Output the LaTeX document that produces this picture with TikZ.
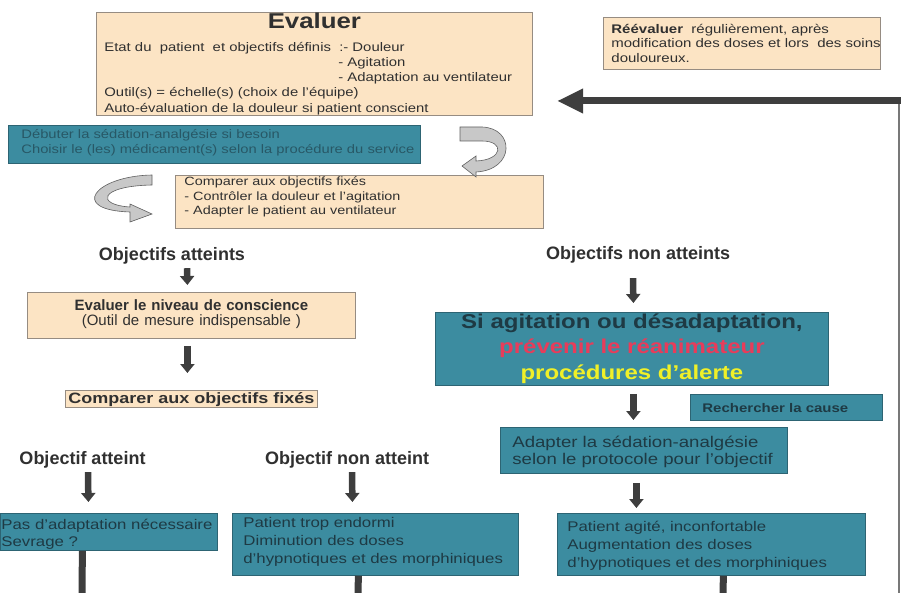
\documentclass[tikz,border=0pt]{standalone}
\usepackage{fontspec}
\setmainfont{Liberation Sans}[FakeStretch=1.2]
\newfontfamily\plainsans{Liberation Sans}
\usetikzlibrary{arrows.meta,calc}
\definecolor{peach}{RGB}{252,228,196}
\definecolor{peachline}{RGB}{150,140,130}
\definecolor{tealfill}{RGB}{60,140,160}
\definecolor{tealline}{RGB}{45,100,115}
\definecolor{tealtext}{RGB}{30,58,68}
\definecolor{debtext}{RGB}{40,88,102}
\definecolor{arrowc}{RGB}{62,62,62}
\definecolor{labelc}{RGB}{48,48,48}
\definecolor{alertred}{RGB}{232,60,90}
\definecolor{alertyellow}{RGB}{240,240,40}
\definecolor{ribbon}{RGB}{200,200,200}
\begin{document}
\begin{tikzpicture}[x=1pt,y=-1pt,
 box/.style={rectangle, inner ysep=0pt, anchor=north west, align=left, line width=0.8pt},
 peachbox/.style={box, draw=peachline, fill=peach, text=labelc},
 tealbox/.style={box, draw=tealline, fill=tealfill, text=tealtext},
 lbl/.style={inner sep=0pt, anchor=base, text=labelc, font=\plainsans\fontsize{18}{18}\selectfont\bfseries, text depth=0pt},
 blockarrow/.style={draw=arrowc, line width=6.5pt, -{Triangle[width=14pt,length=9pt]}},
 stem/.style={draw=arrowc, line width=7pt},
 ribbonstyle/.style={fill=ribbon, draw=gray!75!black, line width=0.6pt},
]
\useasboundingbox (0,0) rectangle (901,593);

% boxes
\node[peachbox, text width=420pt, inner xsep=8pt, text height=16pt, text depth=87pt,
  font=\fontsize{12.4}{15.3}\selectfont] (eval) at (96,12)
 {\makebox[\linewidth]{\fontsize{21.5}{21.5}\selectfont\bfseries Evaluer}\\[7.4pt]
  Etat du\ \ patient\ \ et objectifs définis\ \ :- Douleur\\
  \hspace*{234pt}- Agitation\\
  \hspace*{234pt}- Adaptation au ventilateur\\
  Outil(s) = échelle(s) (choix de l'équipe)\\
  Auto-évaluation de la douleur si patient conscient};

\node[peachbox, text width=261pt, inner xsep=8pt, text height=16pt, text depth=36pt,
  font=\fontsize{12.5}{14.5}\selectfont] (reev) at (603,17)
 {\mbox{\textbf{Réévaluer}\ \ régulièrement, après}\\\mbox{modification des doses et lors\ \ des soins}\\douloureux.};

\node[tealbox, text=debtext, text width=386pt, inner xsep=13pt, text height=13pt, text depth=25pt,
  font=\fontsize{12.3}{15}\selectfont] (deb) at (8,125)
 {Débuter la sédation-analgésie si besoin\\\mbox{Choisir le (les) médicament(s) selon la procédure du service}};

\node[peachbox, text width=350pt, inner xsep=9pt, text height=10pt, text depth=43pt,
  font=\fontsize{12}{14.8}\selectfont] (comp1) at (175,175)
 {Comparer aux objectifs fixés\\- Contrôler la douleur et l'agitation\\- Adapter le patient au ventilateur};

\node[peachbox, align=center, text width=318pt, inner xsep=5pt, text height=18pt, text depth=28pt,
  font=\plainsans\fontsize{15}{15}\selectfont] (niv) at (27,292)
 {\textbf{Evaluer le niveau de conscience}\\(Outil de mesure indispensable )};

\node[peachbox, align=center, text width=248pt, inner xsep=2pt, text height=13pt, text depth=4pt,
  font=\fontsize{15}{15}\selectfont\bfseries] (cmpf) at (65,390)
 {\mbox{Comparer aux objectifs fixés}};

\node[tealbox, align=center, text width=383pt, inner xsep=5pt, text height=16pt, text depth=57pt,
  font=\fontsize{20}{25.5}\selectfont\bfseries] (sia) at (435,312)
 {Si agitation ou désadaptation,\\\textcolor{alertred}{prévenir le réanimateur}\\\textcolor{alertyellow}{procédures d'alerte}};

\node[tealbox, text width=168pt, inner xsep=12pt, text height=18pt, text depth=8pt,
  font=\fontsize{12.5}{14}\selectfont\bfseries] (rech) at (690,394) {Rechercher la cause};

\node[tealbox, text width=263pt, inner xsep=12pt, text height=20pt, text depth=26pt,
  font=\fontsize{15.5}{17.5}\selectfont] (adap) at (500,427)
 {\mbox{Adapter la sédation-analgésie}\\\mbox{selon le protocole pour l'objectif}};

\node[tealbox, text width=215pt, inner xsep=1pt, text height=16pt, text depth=21pt,
  font=\fontsize{14}{17}\selectfont] (pas) at (0,513)
 {\mbox{Pas d'adaptation nécessaire}\\Sevrage ?};

\node[tealbox, text width=264pt, inner xsep=11pt, text height=14pt, text depth=48pt,
  font=\fontsize{14}{18}\selectfont] (trop) at (232,513)
 {Patient trop endormi\\Diminution des doses\\\mbox{d'hypnotiques et des morphiniques}};

\node[tealbox, text width=288pt, inner xsep=10pt, text height=18pt, text depth=44pt,
  font=\fontsize{14}{18}\selectfont] (agi) at (557,513)
 {Patient agité, inconfortable\\Augmentation des doses\\\mbox{d'hypnotiques et des morphiniques}};

% labels
\node[lbl] (lab1) at (172,261) {Objectifs atteints};
\node[lbl] (lab2) at (638,260) {Objectifs non atteints};
\node[lbl] (lab3) at (82.5,464) {Objectif atteint};
\node[lbl] (lab4) at (347,464) {Objectif non atteint};

% block arrows
\draw[blockarrow] ($(lab1.south)+(15,7)$) -- ($(niv.north)+(-4,-7)$);
\draw[blockarrow] ($(niv.south)+(-4,7)$) -- ($(cmpf.north)+(-4,-17)$);
\draw[blockarrow] ($(lab2.south)+(-5,18)$) -- ($(sia.north)+(1.5,-9)$);
\draw[blockarrow] ($(sia.south)+(1.5,8)$) -- ($(adap.north)+(-10.5,-7)$);
\draw[blockarrow] ($(adap.south)+(-7.5,9)$) -- ($(agi.north)+(-75,-5)$);
\draw[blockarrow] ($(lab3.south)+(5.5,8)$) -- ($(pas.north)+(-20.5,-11)$);
\draw[blockarrow] ($(lab4.south)+(5,8)$) -- ($(trop.north)+(-23,-11)$);

% stems to the bottom
\coordinate (e1) at (82,593);
\coordinate (e2) at (358,593);
\coordinate (e3) at (723,593);
\draw[stem] ($(pas.south)+(-26.5,0)$) -- (e1);
\draw[stem] ($(trop.south)+(-17,0)$) -- (e2);
\draw[stem] ($(agi.south)+(12,0)$) -- (e3);

% return arrow on the right
\coordinate (rtop) at (899,101);
\coordinate (rbot) at (899,593);
\coordinate (redge) at (901,101);
\coordinate (tip) at (557,101);
\draw[arrowc!70, line width=1.2pt] (rtop) -- (rbot);
\draw[arrowc, line width=7pt, -{Triangle[width=23pt,length=26pt]}] (redge) -- (tip);

% curved ribbon arrows
\filldraw[ribbonstyle] (460,127) -- (482,127) .. controls (515,128) and (515,170) .. (476,172)
  -- (476,177) -- (462,166) -- (476,156) -- (476,161)
  .. controls (503,160) and (505,141) .. (482,141) -- (460,141) -- cycle;
\filldraw[ribbonstyle] (152,175) .. controls (95,176) and (68,210) .. (130,212)
  -- (130,222) -- (152,214) -- (130,204) -- (130,207)
  .. controls (96,205) and (98,186) .. (152,185) -- cycle;
\end{tikzpicture}
\end{document}
